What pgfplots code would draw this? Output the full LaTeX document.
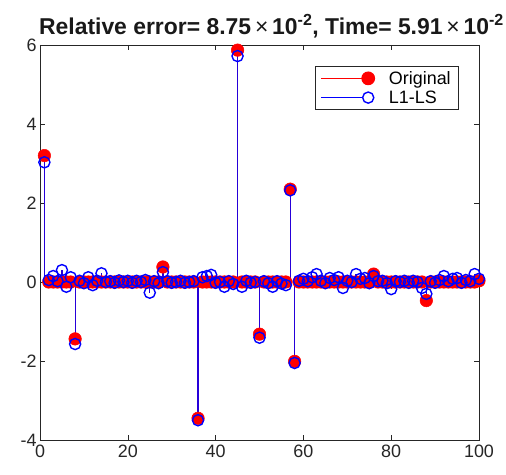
\documentclass[border=0pt]{standalone}
\usepackage{fontspec}
\setmainfont{Liberation Sans}
\usepackage{pgfplots}
\pgfplotsset{compat=1.18}
\usepackage{pgfplotstable}
\definecolor{axgray}{HTML}{262626}

\pgfplotstableread{
x red blue
1 3.2 3.03
2 0 0.05
3 0 0.15
4 0 0.02
5 0 0.3
6 0 -0.12
7 0 0.12
8 -1.44 -1.57
9 0 0.03
10 0 -0.03
11 0 0.12
12 0 -0.08
13 0 0.03
14 0 0.22
15 0 0.0
16 0 0.02
17 0 -0.02
18 0 0.04
19 0 0.0
20 0 0.03
21 0 -0.02
22 0 0.03
23 0 0.0
24 0 0.05
25 0 -0.27
26 0 0.02
27 0 -0.03
28 0.38 0.25
29 0 0.02
30 0 -0.02
31 0 0.0
32 0 0.03
33 0 -0.02
34 0 0.0
35 0 0.02
36 -3.45 -3.5
37 0 0.12
38 0 0.15
39 0 0.18
40 0 -0.02
41 0 0.0
42 0 -0.12
43 0 0.02
44 0 -0.05
45 5.87 5.72
46 0 -0.12
47 0 0.03
48 0 -0.02
49 0 0.0
50 -1.32 -1.41
51 0 0.02
52 0 -0.03
53 0 -0.12
54 0 0.02
55 0 -0.04
56 0 -0.08
57 2.35 2.32
58 -2.01 -2.05
59 0 0.03
60 0 0.08
61 0 0.02
62 0 0.12
63 0 0.2
64 0 0.03
65 0 -0.03
66 0 0.1
67 0 0.05
68 0 0.12
69 0 -0.15
70 0 0.03
71 0 0.0
72 0 0.2
73 0 0.08
74 0 0.1
75 0 -0.03
76 0.2 0.15
77 0 0.02
78 0 0.03
79 0 -0.03
80 0 -0.18
81 0 0.02
82 0 0.0
83 0 0.03
84 0 -0.02
85 0 0.03
86 0 0.0
87 0 -0.15
88 -0.47 -0.3
89 0 0.02
90 0 -0.02
91 0 0.05
92 0 0.15
93 0 0.02
94 0 0.08
95 0 0.1
96 0 -0.02
97 0 0.05
98 0 0.02
99 0 0.2
100 0.03 0.08
}\stemdata

\begin{document}
\begin{tikzpicture}
\useasboundingbox (-40bp,-35bp) rectangle (466bp,440bp);
\begin{axis}[
    at={(0,0)}, anchor=south west,
    scale only axis, width=439bp, height=395bp,
    xmin=0, xmax=100, ymin=-4, ymax=6,
    xtick={0,20,...,100}, ytick={-4,-2,...,6},
    tick align=inside, major tick length=5bp,
    axis line style={axgray, line width=0.6pt},
    every tick/.style={axgray, line width=0.6pt},
    tick label style={font=\fontsize{18}{20}\selectfont, text=axgray},
    xticklabel style={yshift=-1bp},
    /pgf/number format/assume math mode=true,
    title={\bfseries\fontsize{23}{27}\selectfont Relative error= 8.75\,{\mdseries ×}\,10\textsuperscript{-2}, Time= 5.91\,{\mdseries ×}\,10\textsuperscript{-2}},
    title style={text=black!90, yshift=-3bp, xshift=12bp},
    legend style={at={(0.952,0.947)}, anchor=north east, draw=axgray,
        font=\fontsize{18}{21}\selectfont, row sep=1bp, inner xsep=5bp, inner ysep=3bp},
    legend cell align=left,
]
\addplot[red, line width=1.2pt, ycomb, mark=*, mark size=6.3pt,
    mark options={fill=red, draw=red, line width=0.5pt},
    legend image code/.code={\draw[red, line width=1.2pt] (0cm,0cm) -- (1.66cm,0cm);
        \fill[red] (1.66cm,0cm) circle (6.3pt);
        \path (2.3cm,0cm);}]
    table[x=x, y=red] {\stemdata};
\addlegendentry{Original}
\addplot[blue!85!red, line width=1.2pt, ycomb, mark=o, mark size=5.6pt,
    mark options={draw=blue, line width=1.4pt},
    legend image code/.code={\draw[blue, line width=1.2pt] (0cm,0cm) -- (1.66cm,0cm);
        \draw[blue, line width=1.4pt, fill=white] (1.66cm,0cm) circle (5.6pt);
        \path (2.3cm,0cm);}]
    table[x=x, y=blue] {\stemdata};
\addlegendentry{L1-LS}
\end{axis}
\end{tikzpicture}
\end{document}
